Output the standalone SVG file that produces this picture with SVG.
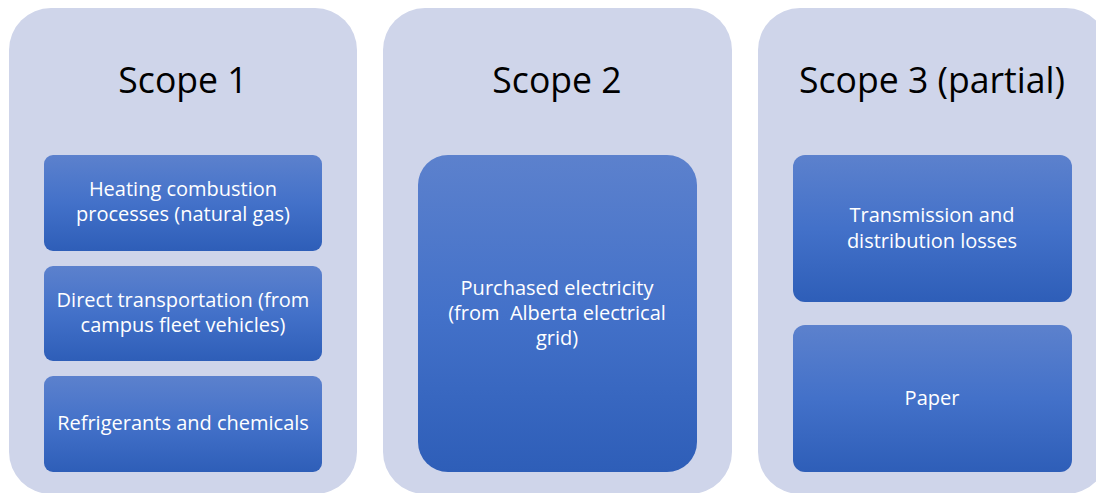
<svg xmlns="http://www.w3.org/2000/svg" width="1096" height="493" viewBox="0 0 1096 493">
  <defs>
    <linearGradient id="boxFill" x1="0" y1="0" x2="0" y2="1">
      <stop offset="0" stop-color="#5c81cd"/>
      <stop offset="0.5" stop-color="#4371c9"/>
      <stop offset="1" stop-color="#2e5eb8"/>
    </linearGradient>
    <style>
      .panel { fill: #cfd5ea; }
      .box { fill: url(#boxFill); }
      .title { font-family: "Open Sans", "Liberation Sans", sans-serif; font-size: 35.6px; fill: #000; text-anchor: middle; }
      .label { font-family: "Open Sans", "Liberation Sans", sans-serif; font-size: 20px; fill: #fff; text-anchor: middle; }
    </style>
  </defs>
  <rect width="1096" height="493" fill="#ffffff"/>

  <!-- Scope 1 -->
  <g id="scope1">
    <rect class="panel" x="9" y="8" width="348" height="486" rx="42"/>
    <text class="title" x="183" y="93">Scope 1</text>
    <g id="heating">
      <rect class="box" x="44" y="155" width="278" height="96" rx="9"/>
      <text class="label" x="183" y="196">Heating combustion</text>
      <text class="label" x="183" y="221">processes (natural gas)</text>
    </g>
    <g id="transport">
      <rect class="box" x="44" y="266" width="278" height="95" rx="9"/>
      <text class="label" x="183" y="307">Direct transportation (from</text>
      <text class="label" x="183" y="332">campus fleet vehicles)</text>
    </g>
    <g id="refrigerants">
      <rect class="box" x="44" y="376" width="278" height="96" rx="9"/>
      <text class="label" x="183" y="430">Refrigerants and chemicals</text>
    </g>
  </g>

  <!-- Scope 2 -->
  <g id="scope2">
    <rect class="panel" x="383" y="8" width="349" height="486" rx="42"/>
    <text class="title" x="557" y="93">Scope 2</text>
    <g id="electricity">
      <rect class="box" x="418" y="155" width="279" height="317" rx="30"/>
      <text class="label" x="557" y="295">Purchased electricity</text>
      <text class="label" x="557" y="320" xml:space="preserve">(from  Alberta electrical</text>
      <text class="label" x="557" y="345">grid)</text>
    </g>
  </g>

  <!-- Scope 3 -->
  <g id="scope3">
    <rect class="panel" x="758" y="8" width="350" height="486" rx="42"/>
    <text class="title" x="932" y="93">Scope 3 (partial)</text>
    <g id="losses">
      <rect class="box" x="793" y="155" width="279" height="147" rx="12"/>
      <text class="label" x="932" y="222">Transmission and</text>
      <text class="label" x="932" y="248">distribution losses</text>
    </g>
    <g id="paper">
      <rect class="box" x="793" y="325" width="279" height="147" rx="12"/>
      <text class="label" x="932" y="405">Paper</text>
    </g>
  </g>

  <!-- No connectors in this diagram -->
  <g id="connectors"/>
</svg>
